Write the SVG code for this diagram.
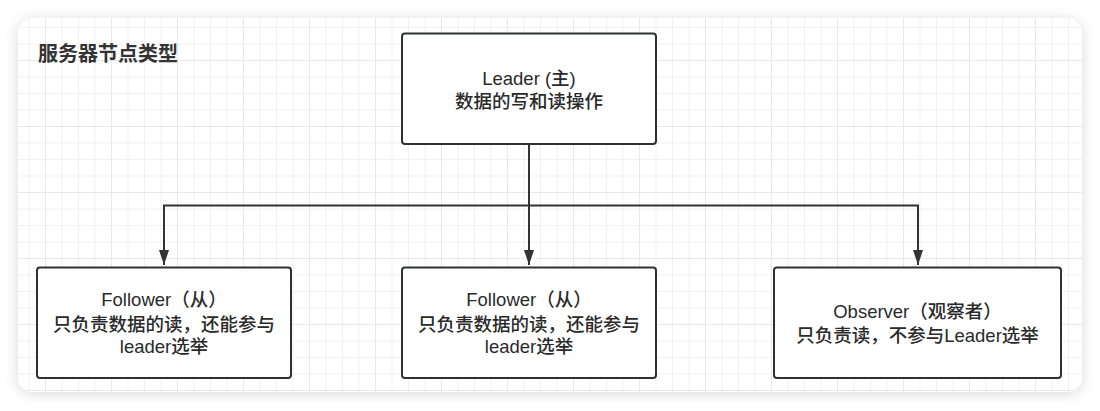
<svg xmlns="http://www.w3.org/2000/svg" width="1100" height="411" viewBox="0 0 1100 411">
  <defs>
    <filter id="shadow" x="-5%" y="-10%" width="110%" height="120%">
      <feDropShadow dx="0" dy="2" stdDeviation="7" flood-color="#000" flood-opacity="0.15"/>
    </filter>
    <pattern id="minor" x="12" y="10.5" width="16.5" height="16.5" patternUnits="userSpaceOnUse">
      <path d="M0.5,0 V16.5 M0,0.5 H16.5" fill="none" stroke="#f1f1f1" stroke-width="1"/>
    </pattern>
    <pattern id="major" x="45" y="60" width="66" height="66" patternUnits="userSpaceOnUse">
      <path d="M0.5,0 V66 M0,0.5 H66" fill="none" stroke="#e8e8e8" stroke-width="1"/>
    </pattern>
    <clipPath id="cardClip">
      <rect x="18" y="18" width="1064" height="374" rx="15" ry="15"/>
    </clipPath>
    <marker id="arrow" markerUnits="userSpaceOnUse" viewBox="0 0 15 10" refX="15" refY="5" markerWidth="15" markerHeight="10" orient="auto">
      <path d="M0,0 L15,5 L0,10 Z" fill="#333333"/>
    </marker>
    <style>
      .box { fill: #ffffff; stroke: #2e3033; stroke-width: 2; }
      .label { font-family: "Liberation Sans", "Noto Sans CJK SC", sans-serif; font-size: 18.5px; font-weight: 500; fill: #2a2a2a; text-anchor: middle; }
      .title { font-family: "Liberation Sans", "Noto Sans CJK SC", sans-serif; font-size: 20px; font-weight: bold; fill: #333333; }
      .conn { fill: none; stroke: #333333; stroke-width: 2; }
    </style>
  </defs>

  <rect x="0" y="0" width="1100" height="411" fill="#ffffff"/>
  <rect x="18" y="18" width="1064" height="374" rx="15" ry="15" fill="#ffffff" filter="url(#shadow)"/>
  <g clip-path="url(#cardClip)">
    <rect x="18" y="18" width="1064" height="374" fill="url(#minor)"/>
    <rect x="18" y="18" width="1064" height="374" fill="url(#major)"/>
  </g>

  <text class="title" x="38" y="61">服务器节点类型</text>

  <g id="connectors">
    <path class="conn" d="M529,144 V265" marker-end="url(#arrow)"/>
    <path class="conn" d="M529,205.5 H164 V265" marker-end="url(#arrow)"/>
    <path class="conn" d="M529,205.5 H918 V265" marker-end="url(#arrow)"/>
  </g>

  <g id="leader">
    <rect class="box" x="402" y="33.5" width="254" height="110.5" rx="3" ry="3"/>
    <text class="label" x="529" y="84.5">Leader (主)</text>
    <text class="label" x="529" y="107.5">数据的写和读操作</text>
  </g>

  <g id="follower1">
    <rect class="box" x="37" y="267.5" width="254" height="110.5" rx="3" ry="3"/>
    <text class="label" x="164" y="306">Follower（从）</text>
    <text class="label" x="164" y="330.5">只负责数据的读，还能参与</text>
    <text class="label" x="164" y="353">leader选举</text>
  </g>

  <g id="follower2">
    <rect class="box" x="402" y="267.5" width="254" height="110.5" rx="3" ry="3"/>
    <text class="label" x="529" y="306">Follower（从）</text>
    <text class="label" x="529" y="330.5">只负责数据的读，还能参与</text>
    <text class="label" x="529" y="353">leader选举</text>
  </g>

  <g id="observer">
    <rect class="box" x="774" y="267.5" width="287" height="110.5" rx="3" ry="3"/>
    <text class="label" x="917.5" y="318">Observer（观察者）</text>
    <text class="label" x="917.5" y="341.5">只负责读，不参与Leader选举</text>
  </g>
</svg>
